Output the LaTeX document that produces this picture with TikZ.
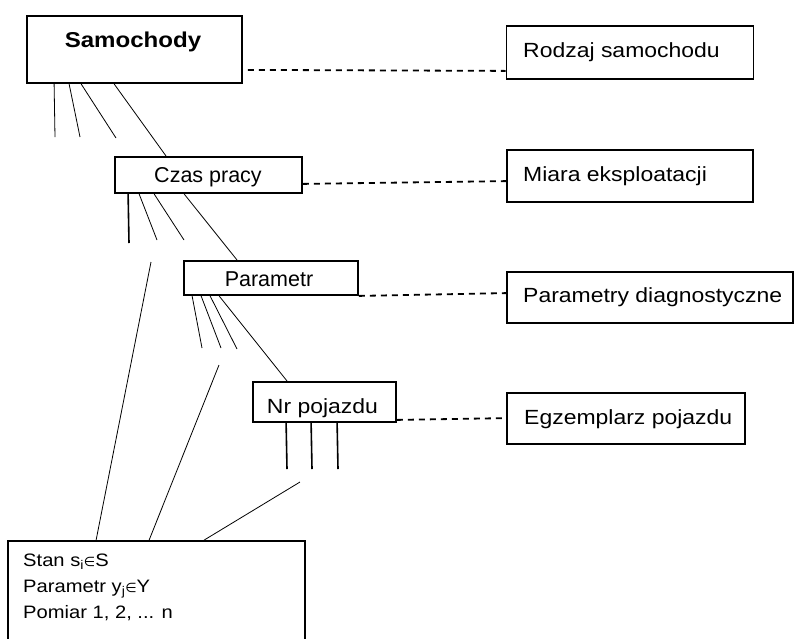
\documentclass[tikz,border=0pt]{standalone}
\usepackage{fontspec}
\setmainfont{Liberation Sans}
\newfontfamily\widefont[FakeStretch=1.12]{Liberation Sans}
\newfontfamily\symfont{DejaVu Sans}
\usetikzlibrary{calc}

\tikzset{
  box/.style={draw, line width=1.8pt, rectangle, inner sep=0pt},
  link/.style={line width=0.8pt},
  stub/.style={line width=1.6pt},
  tie/.style={line width=1.8pt, dash pattern=on 6pt off 5pt},
  lbl/.style={inner sep=0pt, anchor=base},
  lblw/.style={inner sep=0pt, anchor=base west},
  bigtxt/.style={font=\fontsize{21.5}{26}\selectfont},
  widetxt/.style={font=\widefont\fontsize{20.5}{26}\selectfont},
  smalltxt/.style={font=\widefont\fontsize{18}{26}\selectfont},
}
\newcommand{\elemof}{{\symfont\fontsize{13}{13}\selectfont ∈}}

\begin{document}
\begin{tikzpicture}[x=1pt, y=-1pt]
  \clip (0,0) rectangle (795,638);

  % hierarchy boxes
  \node[box, minimum width=215pt, minimum height=67pt] (samo) at (134.5,49.5) {};
  \node[lbl, font=\bfseries\widefont\fontsize{21.5}{26}\selectfont] (samo-t) at (133,47) {Samochody};

  \node[box, minimum width=187pt, minimum height=36pt] (czas) at (208.5,175) {};
  \node[lbl, bigtxt] (czas-t) at (208,182) {Czas pracy};

  \node[box, minimum width=174pt, minimum height=34pt] (param) at (271,278) {};
  \node[lbl, bigtxt] (param-t) at (269,286) {Parametr};

  \node[box, minimum width=143pt, minimum height=40pt] (nr) at (324.5,402) {};
  \node[lbl, widetxt] (nr-t) at (322.5,413) {Nr pojazdu};

  \node[box, minimum width=297pt, minimum height=120pt] (stan) at (156.5,601) {};
  \node[lblw, smalltxt] (stan-1) at (23,566) {Stan s\textsubscript{i}\elemof S};
  \node[lblw, smalltxt] (stan-2) at (23,592) {Parametr y\textsubscript{j}\elemof Y};
  \node[lblw, smalltxt] (stan-3) at (23,618) {Pomiar 1, 2, ... n};

  % meaning of each level
  \node[box, minimum width=247pt, minimum height=53pt] (rodz) at (630,52.5) {};
  \node[lblw, widetxt] (rodz-t) at (523,57.5) {Rodzaj samochodu};

  \node[box, minimum width=246pt, minimum height=52pt] (miara) at (630,176) {};
  \node[lblw, widetxt] (miara-t) at (523,181) {Miara eksploatacji};

  \node[box, minimum width=286pt, minimum height=51pt] (diag) at (650,297.5) {};
  \node[lblw, widetxt] (diag-t) at (523,302.5) {Parametry diagnostyczne};

  \node[box, minimum width=238pt, minimum height=51pt] (egz) at (626,418.5) {};
  \node[lblw, widetxt] (egz-t) at (524,424) {Egzemplarz pojazdu};

  % dashed ties between a level and its meaning
  \draw[tie] ($(samo.south east)+(5,-14)$) -- ($(rodz.south west)+(0,-9)$);
  \draw[tie] ($(czas.south east)+(0,-10)$) -- ($(miara.north west)+(0,32)$);
  \draw[tie] (param.south east) -- ($(diag.north west)+(0,22)$);
  \draw[tie] ($(nr.south east)+(0,-3)$) -- ($(egz.north west)+(0,26)$);

  % free ends of the branches
  \coordinate (a1) at (55,137);
  \coordinate (a2) at (80,137);
  \coordinate (a3) at (116,138);
  \coordinate (b1) at (129,243);
  \coordinate (b2) at (157,240);
  \coordinate (b3) at (184,240);
  \coordinate (c1) at (202,348);
  \coordinate (c2) at (221,348);
  \coordinate (c3) at (237,349);
  \coordinate (d1) at (287,469);
  \coordinate (d2) at (312,469);
  \coordinate (d3) at (338,469);
  \coordinate (e1) at (151,262);
  \coordinate (e2) at (219,365);
  \coordinate (e3) at (300,482);

  % branches below Samochody
  \draw[link] ($(samo.south west)+(28,0)$) -- (a1);
  \draw[link] ($(samo.south west)+(43,0)$) -- (a2);
  \draw[link] ($(samo.south west)+(55,0)$) -- (a3);
  \draw[link] ($(samo.south west)+(88,0)$) -- ($(czas.north west)+(52,0)$);

  % branches below Czas pracy
  \draw[stub] ($(czas.south west)+(14,0)$) -- (b1);
  \draw[link] ($(czas.south west)+(25,0)$) -- (b2);
  \draw[link] ($(czas.south west)+(40,0)$) -- (b3);
  \draw[link] ($(czas.south west)+(70,0)$) -- ($(param.north west)+(54,0)$);

  % branches below Parametr
  \draw[link] ($(param.south west)+(9,0)$) -- (c1);
  \draw[link] ($(param.south west)+(18,0)$) -- (c2);
  \draw[link] ($(param.south west)+(27,0)$) -- (c3);
  \draw[link] ($(param.south west)+(36,0)$) -- ($(nr.north west)+(35,0)$);

  % branches below Nr pojazdu
  \draw[stub] ($(nr.south west)+(34,0)$) -- (d1);
  \draw[stub] ($(nr.south west)+(59,0)$) -- (d2);
  \draw[stub] ($(nr.south west)+(85,0)$) -- (d3);

  % lines into the state box
  \draw[link] (e1) -- ($(stan.north west)+(89,0)$);
  \draw[link] (e2) -- ($(stan.north west)+(142,0)$);
  \draw[link] (e3) -- ($(stan.north west)+(197,0)$);
\end{tikzpicture}
\end{document}
